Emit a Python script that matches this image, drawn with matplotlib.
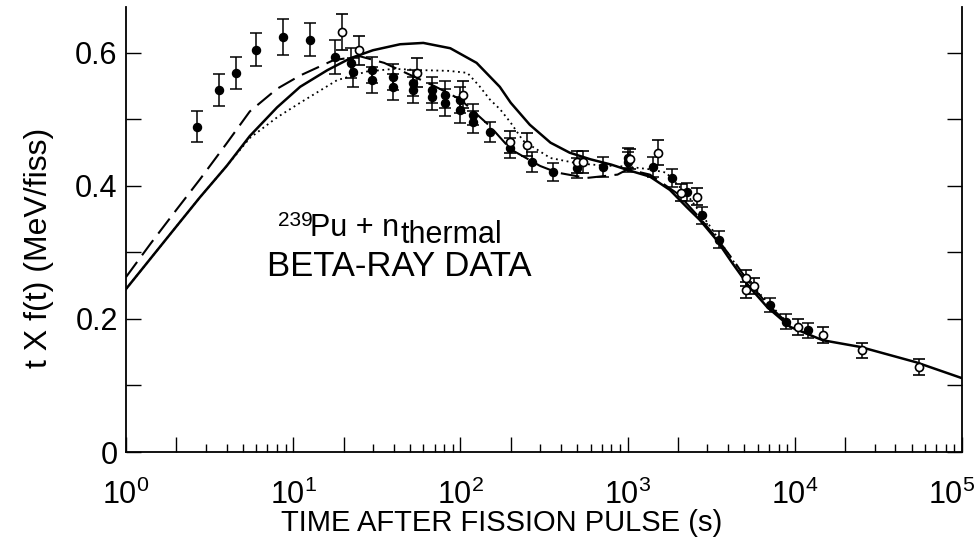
import matplotlib
matplotlib.use("Agg")
import matplotlib.pyplot as plt
import matplotlib.transforms as mtransforms
from matplotlib.ticker import FixedLocator, FixedFormatter

plt.rcParams['font.family'] = ['Liberation Sans', 'DejaVu Sans']
plt.rcParams['mathtext.fontset'] = 'custom'
plt.rcParams['mathtext.rm'] = 'Liberation Sans'

# calculated curves (time in s, t*f(t) in MeV/fiss)
solid_t = [1, 1.5, 2, 2.77, 4, 5.5, 8, 11, 16, 22, 30, 43.6, 60, 87, 125,
           172, 200, 260, 346, 450, 600, 800, 1000, 1360, 1790, 2260, 2700,
           3400, 4230, 5360, 6830, 9400, 14700, 24600, 53000, 100000]
solid_y = [0.245, 0.300, 0.339, 0.383, 0.430, 0.475, 0.518, 0.549, 0.574,
           0.592, 0.604, 0.613, 0.615, 0.607, 0.585, 0.549, 0.525, 0.492,
           0.465, 0.450, 0.440, 0.432, 0.424, 0.414, 0.394, 0.368, 0.349,
           0.319, 0.284, 0.248, 0.218, 0.188, 0.168, 0.158, 0.135, 0.111]

dash_t = [1, 1.41, 2, 2.77, 4, 5.5, 8, 11, 17.4, 25, 35, 50, 70, 100, 150,
          200, 300, 380, 570, 870, 1000, 1360, 2000, 2700, 3400, 4300, 5400,
          7000, 9400]
dash_y = [0.263, 0.314, 0.364, 0.410, 0.464, 0.512, 0.546, 0.566, 0.589,
          0.595, 0.585, 0.567, 0.550, 0.530, 0.490, 0.455, 0.430, 0.420,
          0.412, 0.417, 0.425, 0.417, 0.388, 0.352, 0.322, 0.288, 0.252,
          0.220, 0.190]

dot_t = [1, 2, 2.77, 4, 5.5, 8, 11, 18.3, 27.6, 40, 60, 85, 110, 130, 150,
         173, 200, 237, 345, 500, 690, 1000, 1360, 1700, 2300, 3100, 4200,
         5400, 7000, 9400]
dot_y = [0.245, 0.339, 0.383, 0.430, 0.472, 0.503, 0.525, 0.559, 0.572,
         0.576, 0.574, 0.573, 0.570, 0.550, 0.530, 0.515, 0.495, 0.468,
         0.442, 0.434, 0.431, 0.429, 0.425, 0.420, 0.385, 0.340, 0.290,
         0.254, 0.223, 0.191]

# measured points
fill_t = [2.66, 3.6, 4.55, 6.0, 8.7, 12.6, 17.8, 22.2, 22.8, 29.6, 29.6,
          39.6, 39.6, 52, 52, 68, 68, 81, 81, 99, 99, 119, 119, 150, 198,
          268, 356, 500, 715, 1000, 1000, 1420, 1840, 2260, 2800, 3530,
          7100, 8900, 12000]
fill_y = [0.489, 0.544, 0.570, 0.605, 0.624, 0.620, 0.594, 0.585, 0.571,
          0.574, 0.559, 0.564, 0.549, 0.555, 0.544, 0.544, 0.534, 0.537,
          0.525, 0.529, 0.514, 0.507, 0.496, 0.481, 0.457, 0.436, 0.421,
          0.427, 0.429, 0.436, 0.442, 0.429, 0.412, 0.391, 0.356, 0.319,
          0.221, 0.196, 0.183]
fill_err = [0.023, 0.024, 0.024, 0.025, 0.027, 0.025, 0.025, 0.022, 0.022,
            0.02, 0.02, 0.02, 0.02, 0.02, 0.02, 0.02, 0.02, 0.02, 0.02,
            0.02, 0.02, 0.016, 0.016, 0.015, 0.015, 0.015, 0.013, 0.015,
            0.015, 0.015, 0.015, 0.015, 0.013, 0.013, 0.013, 0.013, 0.011,
            0.011, 0.011]

open_t = [19.6, 24.8, 55, 104, 198, 250, 500, 540, 1040, 1520, 2080, 2600,
          5100, 5100, 5700, 10500, 14700, 25300, 55000]
open_y = [0.631, 0.604, 0.570, 0.537, 0.466, 0.462, 0.436, 0.436, 0.440,
          0.450, 0.390, 0.384, 0.262, 0.244, 0.250, 0.188, 0.176, 0.153,
          0.128]
open_err = [0.027, 0.022, 0.022, 0.02, 0.017, 0.017, 0.016, 0.016, 0.015,
            0.019, 0.013, 0.013, 0.012, 0.012, 0.012, 0.012, 0.012, 0.011,
            0.012]

xticks_major = [1, 2, 10, 20, 100, 200, 1000, 2000, 1e4, 2e4, 1e5]
xtick_labels = ['$\\mathregular{10^{0}}$', '', '$\\mathregular{10^{1}}$', '',
                '$\\mathregular{10^{2}}$', '', '$\\mathregular{10^{3}}$', '',
                '$\\mathregular{10^{4}}$', '', '$\\mathregular{10^{5}}$']
xticks_minor = [m * 10**e for e in range(5) for m in range(3, 10)]
yticks = [0, 0.1, 0.2, 0.3, 0.4, 0.5, 0.6]
ytick_labels = ['0', '', '0.2', '', '0.4', '', '0.6']

fig = plt.figure(figsize=(9.78, 5.43), dpi=100)
ax = fig.add_axes([126/978, 1 - 452/543, (962 - 126)/978, (452 - 7)/543])

ax.plot(solid_t, solid_y, color='black', lw=1.8, zorder=2)
ax.plot(dash_t, dash_y, color='black', lw=1.5, dashes=(9, 4), zorder=2)
ax.plot(dot_t, dot_y, color='black', lw=1.3, dashes=(1, 2), zorder=2)

ax.errorbar(fill_t, fill_y, yerr=fill_err, fmt='o', color='black', ms=5.8,
            mfc='black', mec='black', elinewidth=1.1, capsize=4,
            capthick=1.1, zorder=3)
ax.errorbar(open_t, open_y, yerr=open_err, fmt='o', color='black', ms=5.8,
            mfc='white', mec='black', mew=1.2, elinewidth=1.1, capsize=4,
            capthick=1.1, zorder=4)

ax.set_xscale('log')
ax.set_xlim(1, 1e5)
ax.set_ylim(0, 0.669)

ax.xaxis.set_major_locator(FixedLocator(xticks_major))
ax.xaxis.set_major_formatter(FixedFormatter(xtick_labels))
ax.xaxis.set_minor_locator(FixedLocator(xticks_minor))
ax.xaxis.set_minor_formatter(FixedFormatter([''] * len(xticks_minor)))
ax.yaxis.set_major_locator(FixedLocator(yticks))
ax.yaxis.set_major_formatter(FixedFormatter(ytick_labels))

ax.tick_params(axis='x', which='major', direction='in', length=11, width=1,
               labelsize=22, pad=20)
ax.tick_params(axis='x', which='minor', direction='in', length=6, width=1)
ax.tick_params(axis='y', which='major', direction='in', length=11, width=1,
               labelsize=22, left=True, right=True, pad=6)

# pull the last decade label in from the right edge
last = ax.get_xticklabels()[-1]
last.set_transform(last.get_transform() + mtransforms.ScaledTranslation(
    -10/100, 0, fig.dpi_scale_trans))

ax.spines['top'].set_visible(False)
for s in ('left', 'right', 'bottom'):
    ax.spines[s].set_linewidth(1.3)

ax.set_xlabel('TIME AFTER FISSION PULSE (s)', fontsize=21)
ax.xaxis.set_label_coords(0.449, -0.128)
ax.set_ylabel('t X f(t) (MeV/fiss)', fontsize=23)
ax.yaxis.set_label_coords(-0.086, 0.458)

# reaction label: 239Pu + n(thermal)
iso = ax.annotate('239', xy=(278/978, 1 - 226/543),
                  xycoords='figure fraction', fontsize=15, ha='left',
                  va='baseline')
pu = ax.annotate('Pu + n', xy=(310/978, 1 - 236/543),
                 xycoords='figure fraction', fontsize=22, ha='left',
                 va='baseline')
ax.annotate('thermal', xy=(1, 0), xycoords=pu, xytext=(1, 0),
            textcoords='offset points', fontsize=22, ha='left',
            va='baseline')
ax.annotate('BETA-RAY DATA', xy=(399/978, 1 - 276/543),
            xycoords='figure fraction', fontsize=25, ha='center',
            va='baseline')

fig.savefig('out.png', dpi=100)
